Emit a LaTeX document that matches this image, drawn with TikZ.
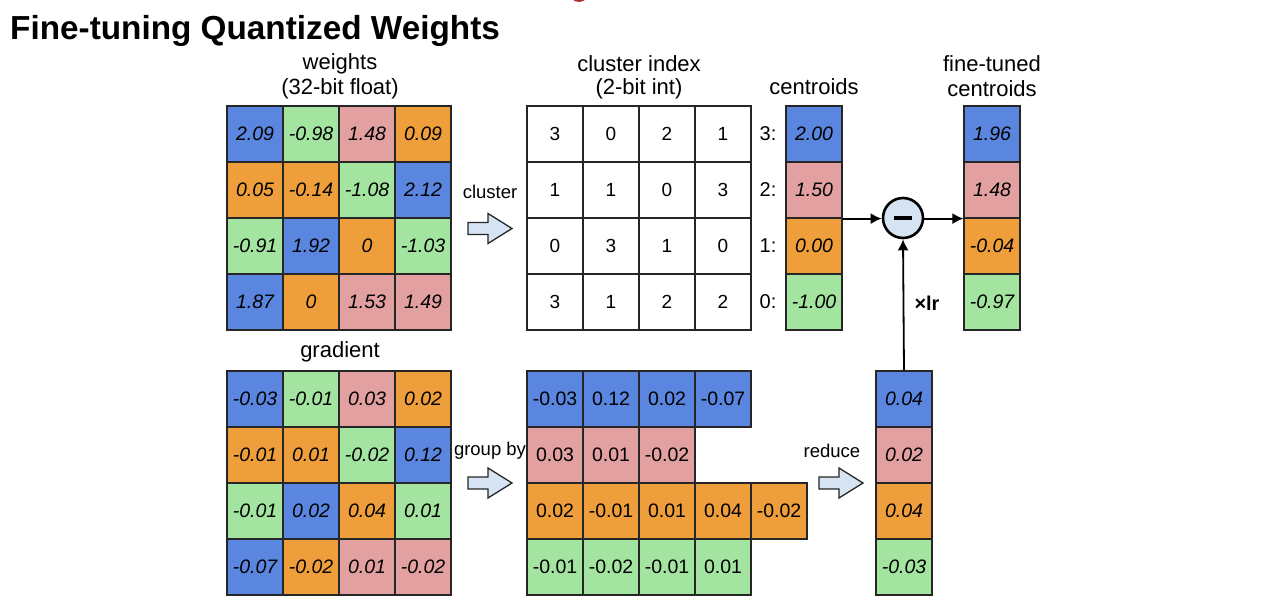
\documentclass[tikz,border=0pt]{standalone}
\usepackage{fontspec}
\setmainfont{Liberation Sans}
\usetikzlibrary{arrows.meta}
\definecolor{cB}{HTML}{5A86E0}
\definecolor{cG}{HTML}{A3E4A0}
\definecolor{cP}{HTML}{E2A0A0}
\definecolor{cO}{HTML}{EE9E3A}
\definecolor{cA}{HTML}{D5E3F3}
\definecolor{cR}{HTML}{B0303A}
\begin{document}
\begin{tikzpicture}[x=1pt,y=-1pt,
 cellbox/.style={draw=black!85, line width=1.2pt, minimum size=56pt, inner sep=0pt, font=\fontsize{19.5}{22}\selectfont},
 icell/.style={cellbox, font=\fontsize{19.5}{22}\selectfont\itshape},
 lbl/.style={font=\fontsize{22}{26}\selectfont, inner sep=0pt},
 slbl/.style={font=\fontsize{18.5}{22}\selectfont, inner sep=0pt},
 conn/.style={line width=1.8pt, -{Latex[length=11pt,width=11pt]}},
 barrow/.pic={\draw[draw=black!85, line width=1.3pt, fill=cA, line join=miter]
   (0,-6) -- (20,-6) -- (20,-15) -- (44,0) -- (20,15) -- (20,6) -- (0,6) -- cycle;}
]
\useasboundingbox (0,0) rectangle (1280,608);
\fill[white] (0,0) rectangle (1280,608);
\fill[cR] (579,-8) circle (10);

\node[anchor=base west, inner sep=0pt, font=\fontsize{33.3}{38}\selectfont\bfseries] (title) at (10,39) {Fine-tuning Quantized Weights};

% labels
\node[lbl] (lw1) at (340,64) {weights};
\node[lbl] (lw2) at (340,89) {(32-bit float)};
\node[lbl] (lc1) at (639,64) {cluster index};
\node[lbl] (lc2) at (639,89) {(2-bit int)};
\node[lbl] (lce) at (814,87) {centroids};
\node[lbl] (lf1) at (992,64) {fine-tuned};
\node[lbl] (lf2) at (992,89) {centroids};
\node[lbl] (lg) at (340,352) {gradient};

% weights
\foreach \val/\col [count=\k from 0] in {2.09/cB,-0.98/cG,1.48/cP,0.09/cO,
  0.05/cO,-0.14/cO,-1.08/cG,2.12/cB,
  -0.91/cG,1.92/cB,0/cO,-1.03/cG,
  1.87/cB,0/cO,1.53/cP,1.49/cP}{
  \pgfmathtruncatemacro{\rr}{div(\k,4)}
  \pgfmathtruncatemacro{\cc}{mod(\k,4)}
  \node[icell, fill=\col] (w-\rr-\cc) at ({255+56*\cc},{134+56*\rr}) {\val};
}

% cluster index
\foreach \val [count=\k from 0] in {3,0,2,1, 1,1,0,3, 0,3,1,0, 3,1,2,2}{
  \pgfmathtruncatemacro{\rr}{div(\k,4)}
  \pgfmathtruncatemacro{\cc}{mod(\k,4)}
  \node[cellbox, fill=white, font=\fontsize{19}{22}\selectfont] (ci-\rr-\cc) at ({555+56*\cc},{134+56*\rr}) {\val};
}

% centroids
\foreach \val/\col/\lab [count=\k from 0] in {2.00/cB/3:,1.50/cP/2:,0.00/cO/1:,-1.00/cG/0:}{
  \node[icell, fill=\col] (ce-\k) at (814,{134+56*\k}) {\val};
  \node[lbl, font=\fontsize{20}{24}\selectfont] (cl-\k) at (768,{134+56*\k}) {\lab};
}

% fine-tuned centroids
\foreach \val/\col [count=\k from 0] in {1.96/cB,1.48/cP,-0.04/cO,-0.97/cG}{
  \node[icell, fill=\col] (ft-\k) at (992,{134+56*\k}) {\val};
}

% gradient
\foreach \val/\col [count=\k from 0] in {-0.03/cB,-0.01/cG,0.03/cP,0.02/cO,
  -0.01/cO,0.01/cO,-0.02/cG,0.12/cB,
  -0.01/cG,0.02/cB,0.04/cO,0.01/cG,
  -0.07/cB,-0.02/cO,0.01/cP,-0.02/cP}{
  \pgfmathtruncatemacro{\rr}{div(\k,4)}
  \pgfmathtruncatemacro{\cc}{mod(\k,4)}
  \node[icell, fill=\col] (g-\rr-\cc) at ({255+56*\cc},{399+56*\rr}) {\val};
}

% grouped
\foreach \val [count=\k from 0] in {-0.03,0.12,0.02,-0.07}{
  \node[cellbox, fill=cB] (gb-0-\k) at ({555+56*\k},399) {\val};}
\foreach \val [count=\k from 0] in {0.03,0.01,-0.02}{
  \node[cellbox, fill=cP] (gb-1-\k) at ({555+56*\k},455) {\val};}
\foreach \val [count=\k from 0] in {0.02,-0.01,0.01,0.04,-0.02}{
  \node[cellbox, fill=cO] (gb-2-\k) at ({555+56*\k},511) {\val};}
\foreach \val [count=\k from 0] in {-0.01,-0.02,-0.01,0.01}{
  \node[cellbox, fill=cG] (gb-3-\k) at ({555+56*\k},567) {\val};}

% reduced
\foreach \val/\col [count=\k from 0] in {0.04/cB,0.02/cP,0.04/cO,-0.03/cG}{
  \node[icell, fill=\col] (rd-\k) at (904,{399+56*\k}) {\val};
}

% block arrows
\node[slbl] (tcl) at (490,192) {cluster};
\pic (a1) at (468,228.5) {barrow};
\node[slbl] (tgb) at (490,451) {group by};
\pic (a2) at (468,483) {barrow};
\node[slbl] (trd) at (832,451) {reduce};
\pic (a3) at (819,483) {barrow};

% minus circle
\node[circle, draw=black, line width=2.6pt, fill=cA, minimum size=40pt, inner sep=0pt] (minus) at (903,218) {};
\draw[line width=4.5pt] ([xshift=-9pt]minus.center) -- ([xshift=9pt]minus.center);

\draw[conn] (ce-1.south east) -- (ce-1.south east -| minus.west);
\draw[conn] (minus.east |- ft-1.south west) -- (ft-1.south west);
\draw[conn] (rd-0.north) -- (minus.south);
\node[font=\fontsize{20}{24}\selectfont\bfseries, inner sep=0pt] (xlr) at (927,303) {×lr};
\end{tikzpicture}
\end{document}
